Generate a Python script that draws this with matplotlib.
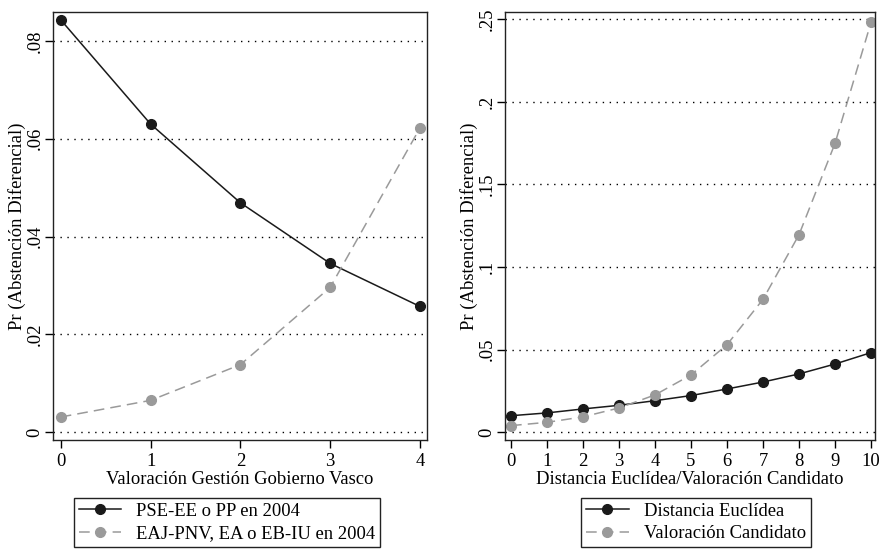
import numpy as np
import matplotlib
matplotlib.use('Agg')
import matplotlib.pyplot as plt
from matplotlib.ticker import FixedLocator

plt.rcParams['font.family'] = ['Liberation Serif', 'DejaVu Serif']
plt.rcParams['font.size'] = 13.4

# left panel data
gestion = [0, 1, 2, 3, 4]
pse_pp = [0.0843, 0.0630, 0.0469, 0.0345, 0.0257]
eaj_pnv = [0.0031, 0.0065, 0.0138, 0.0296, 0.0622]
left_yticks = [0, 0.02, 0.04, 0.06, 0.08]
left_ylabels = ['0', '.02', '.04', '.06', '.08']

# right panel data
escala = [0, 1, 2, 3, 4, 5, 6, 7, 8, 9, 10]
dist_eucl = [0.0100, 0.0117, 0.0141, 0.0163, 0.0191, 0.0222,
             0.0262, 0.0304, 0.0353, 0.0413, 0.0482]
val_cand = [0.0040, 0.0060, 0.0093, 0.0147, 0.0226, 0.0347,
            0.0530, 0.0805, 0.1196, 0.1749, 0.2482]
right_yticks = [0, 0.05, 0.10, 0.15, 0.20, 0.25]
right_ylabels = ['0', '.05', '.1', '.15', '.2', '.25']

dark = '#1a1a1a'
grey = '#9a9a9a'

fig = plt.figure(figsize=(8.8, 5.5), dpi=100)
ax1 = fig.add_axes([53/880, 110/550, 374/880, 428/550])
ax2 = fig.add_axes([505/880, 110/550, 370/880, 428/550])


def style_axis(ax, yticks, ylabels, label_x):
    ax.yaxis.set_major_locator(FixedLocator(yticks))
    ax.set_yticklabels(ylabels, rotation=90, va='center')
    for y in yticks:
        ax.axhline(y, color='black', lw=1, ls=(0, (1, 4)), zorder=0)
    for s in ax.spines.values():
        s.set_linewidth(1)
        s.set_color('#222222')
    ax.tick_params(direction='out', length=6, width=1, pad=3)
    ax.tick_params(axis='y', pad=1)
    ax.set_ylabel('Pr (Abstención Diferencial)', va='center')
    ax.yaxis.set_label_coords(label_x, 0.5)


# left
ax1.plot(gestion, pse_pp, '-o', color=dark, lw=1.1, ms=7, label='PSE-EE o PP en 2004')
ax1.plot(gestion, eaj_pnv, '--o', color=grey, lw=1.1, ms=7, dashes=(7, 4),
         label='EAJ-PNV, EA o EB-IU en 2004')
ax1.set_xlim(-0.086, 4.078)
ax1.set_ylim(-0.0016, 0.0859)
ax1.set_xticks(gestion)
style_axis(ax1, left_yticks, left_ylabels, -0.097)
ax1.set_xlabel('Valoración Gestión Gobierno Vasco', labelpad=1)

# right
ax2.plot(escala, dist_eucl, '-o', color=dark, lw=1.1, ms=7, label='Distancia Euclídea')
ax2.plot(escala, val_cand, '--o', color=grey, lw=1.1, ms=7, dashes=(7, 4),
         label='Valoración Candidato')
ax2.set_xlim(-0.167, 10.11)
ax2.set_ylim(-0.0047, 0.2544)
ax2.set_xticks(escala)
style_axis(ax2, right_yticks, right_ylabels, -0.098)
ax2.set_xlabel('Distancia Euclídea/Valoración Candidato', labelpad=1)

for ax, xc in [(ax1, 227/880), (ax2, 696/880)]:
    leg = fig.legend(*ax.get_legend_handles_labels(), loc='upper center',
                     bbox_to_anchor=(xc, 52/550), fancybox=False, framealpha=1,
                     edgecolor='#222222', handlelength=2.3, borderpad=0.25,
                     borderaxespad=0, labelspacing=0.3, handletextpad=0.8,
                     fontsize=13.4)
    leg.get_frame().set_linewidth(1)

fig.savefig('out.png', dpi=100)
